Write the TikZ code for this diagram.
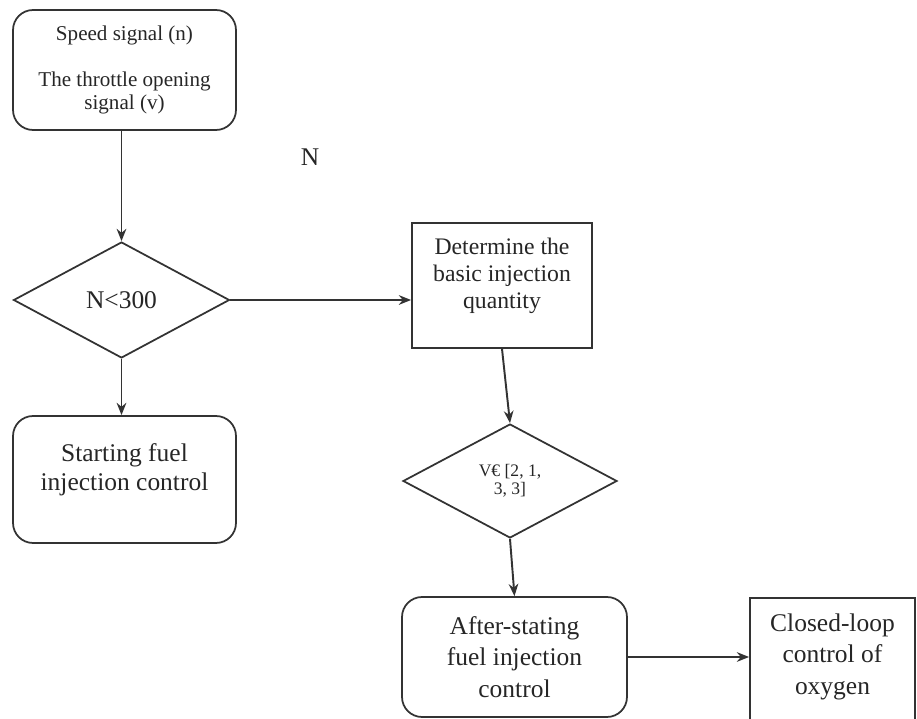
\documentclass[tikz,border=0pt]{standalone}
\usepackage{fontspec}
\setmainfont{Liberation Serif}
\usetikzlibrary{arrows.meta,shapes.geometric}

\begin{document}
\begin{tikzpicture}[x=0.02cm,y=-0.02cm,
    every node/.style={text=black!85},
    rbox/.style={draw=black!80, line width=1pt, rounded corners=0.4cm, align=center},
    sbox/.style={draw=black!80, line width=1pt, align=center},
    dmd/.style={draw=black!80, line width=1pt, diamond, inner sep=0pt, align=center},
    flow/.style={-{Stealth[length=7pt,width=5.5pt]}, draw=black!80, line width=1.1pt}]
    \useasboundingbox (0,0) rectangle (917,719);
    \clip (0,0) rectangle (917,719);

    \node[rbox, minimum width=4.46cm, minimum height=2.4cm, font=\fontsize{12}{13}\selectfont] (1) at (124.5,70) {Speed signal (n)\\[13pt]The throttle opening\\signal (v)};
    \node[dmd, minimum width=4.32cm, minimum height=2.32cm, font=\fontsize{14.5}{16}\selectfont] (2) at (121.5,300) {N<300};
    \node[rbox, minimum width=4.46cm, minimum height=2.54cm, text depth=0.5cm, font=\fontsize{14.5}{16}\selectfont] (3) at (124.5,479.5) {Starting fuel\\injection control};
    \node[sbox, minimum width=3.6cm, minimum height=2.5cm, text depth=0.5cm, font=\fontsize{13.5}{15.3}\selectfont] (4) at (502,285.5) {Determine the\\basic injection\\quantity};
    \node[dmd, minimum width=4.28cm, minimum height=2.28cm, font=\fontsize{10}{10}\selectfont] (5) at (510,481) {V€ [2, 1,\\3, 3]};
    \node[rbox, minimum width=4.5cm, minimum height=2.4cm, font=\fontsize{14.5}{18}\selectfont] (6) at (514.5,657) {After-stating\\fuel injection\\control};
    \node[sbox, anchor=north, minimum width=3.3cm, inner ysep=9pt, text depth=3cm, font=\fontsize{14.5}{18}\selectfont] (7) at (832.5,597) {Closed-loop\\control of\\oxygen};

    \node[font=\fontsize{14.5}{16}\selectfont] (8) at (310,157) {N};

    \path
	(1.south -| 2.north) edge[flow] (2.north)
	(2.east) edge[flow] (2.east -| 4.west)
	(2.south) edge[flow] (2.south |- 3.north)
	(4.south) edge[flow] (5.north)
	(5.south) edge[flow] (6.north)
	(6.east) edge[flow] (6.east -| 7.west);
\end{tikzpicture}
\end{document}
